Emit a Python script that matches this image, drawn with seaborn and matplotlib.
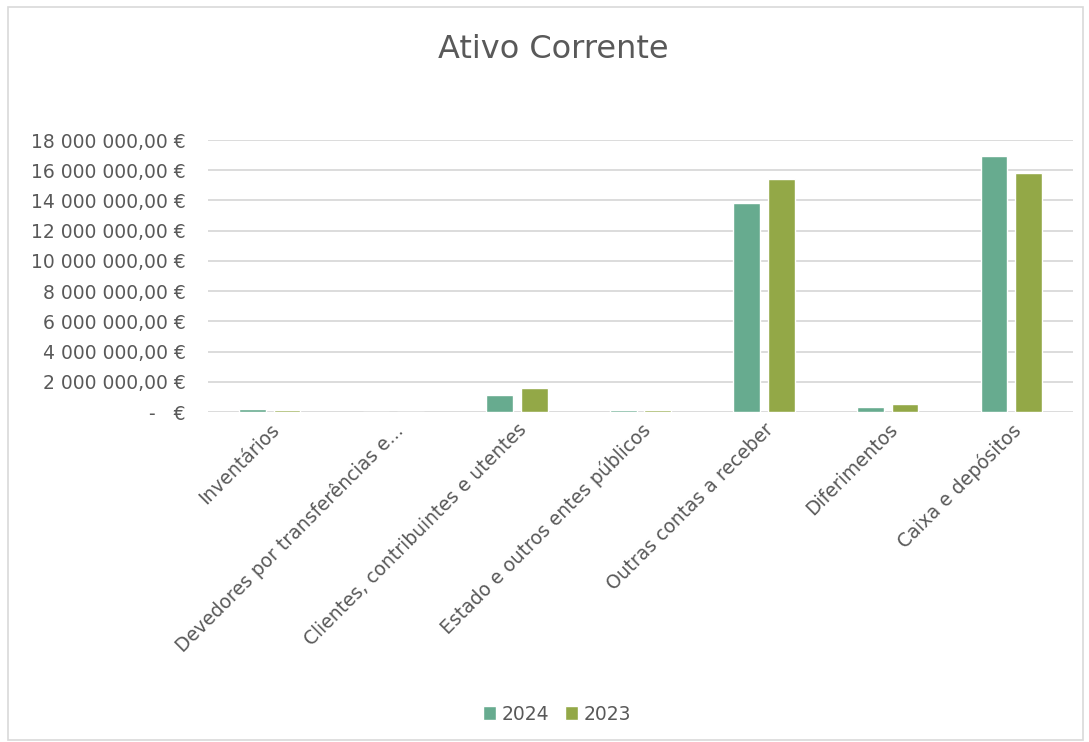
import matplotlib
matplotlib.use("Agg")
import matplotlib.pyplot as plt
import matplotlib.ticker as mticker
import seaborn as sns
import pandas as pd

categories = ["Inventários", "Devedores por transferências e...",
              "Clientes, contribuintes e utentes", "Estado e outros entes públicos",
              "Outras contas a receber", "Diferimentos", "Caixa e depósitos"]
values_2024 = [170000, 0, 1120000, 160000, 13850000, 350000, 16940000]
values_2023 = [160000, 0, 1590000, 150000, 15400000, 510000, 15800000]
series = ["2024", "2023"]
yticks = [0, 2000000, 4000000, 6000000, 8000000, 10000000, 12000000, 14000000, 16000000, 18000000]

df = pd.DataFrame({
    "cat": categories * 2,
    "val": values_2024 + values_2023,
    "year": [series[0]] * len(categories) + [series[1]] * len(categories),
})

sns.set_theme(style="white")
plt.rcParams["font.family"] = ["DejaVu Sans"]
txt = "#595959"

fig = plt.figure(figsize=(10.89, 7.42), dpi=100)
ax = fig.add_axes([208/1089, 1 - 412/742, 865/1089, 272/742])

sns.barplot(data=df, x="cat", y="val", hue="year", palette=["#67AB8F", "#93A847"],
            ax=ax, width=0.56, gap=0.23, saturation=1, legend=True)

ax.set_ylim(0, 18000000)
ax.set_yticks(yticks)

def fmt(v, pos):
    if v == 0:
        return "-   €"
    return f"{int(v):,}".replace(",", " ") + ",00 €"

ax.yaxis.set_major_formatter(mticker.FuncFormatter(fmt))
ax.yaxis.grid(True, color="#D9D9D9", linewidth=1.3)
ax.set_axisbelow(True)
for s in ["top", "right", "left", "bottom"]:
    ax.spines[s].set_visible(False)
ax.set_xlabel("")
ax.set_ylabel("")
ax.tick_params(axis="y", labelsize=13.5, colors=txt, length=0, pad=16)
ax.tick_params(axis="x", labelsize=13.5, colors=txt, length=0, pad=6)
for lab in ax.get_xticklabels():
    lab.set_rotation(45)
    lab.set_ha("right")
    lab.set_va("top")
    lab.set_rotation_mode("anchor")

ax.legend_.remove()
handles, labels = ax.get_legend_handles_labels()
fig.legend(handles, labels, loc="center", bbox_to_anchor=(557/1089, 1 - 714/742),
           ncol=2, frameon=False, fontsize=13.5, labelcolor=txt,
           handlelength=0.7, handleheight=0.7, handletextpad=0.3, columnspacing=0.8)

fig.text(553/1089, 1 - 50/742, "Ativo Corrente", ha="center", va="center",
         fontsize=23, color=txt)

border = plt.Rectangle((8/1089, 2/742), 1075/1089, 733/742, transform=fig.transFigure,
                       fill=False, edgecolor="#D9D9D9", linewidth=1.2)
fig.add_artist(border)

fig.savefig("out.png", dpi=100, facecolor="white")
